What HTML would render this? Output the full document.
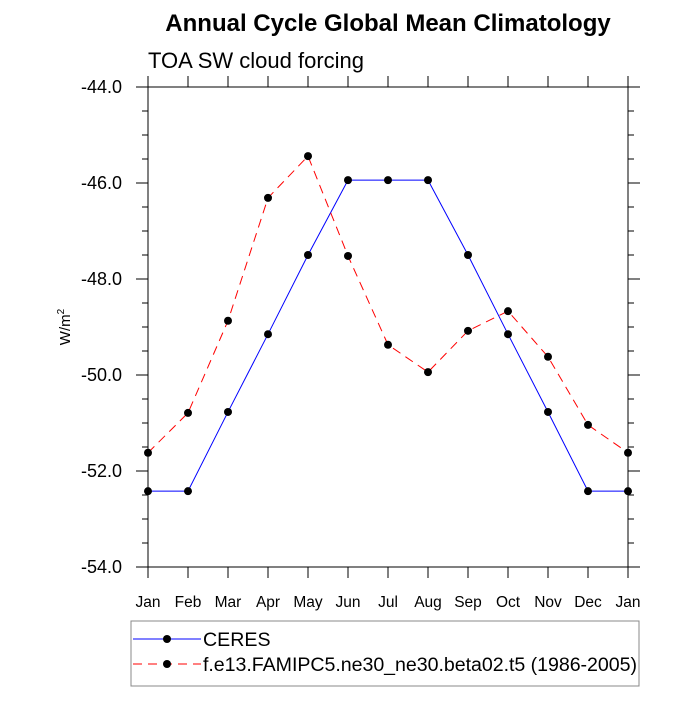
<!DOCTYPE html>
<html><head><meta charset="utf-8"><style>body{margin:0;background:#fff}svg{font-family:"Liberation Sans",sans-serif}</style></head>
<body>
<svg id="c" width="700" height="700">
<text x="388" y="31" text-anchor="middle" font-size="24" font-weight="bold">Annual Cycle Global Mean Climatology</text>
<text x="148" y="68" font-size="22">TOA SW cloud forcing</text>
<text transform="translate(70,327) rotate(-90)" text-anchor="middle" font-size="15">W/m<tspan font-size="10" dy="-6">2</tspan></text>
<g id="axes"></g><g id="series"></g>
<rect x="131" y="621" width="508" height="65" fill="none" stroke="#888"/>
<g>
<line x1="133" y1="639" x2="201" y2="639" stroke="blue"/><circle cx="167" cy="639" r="4" fill="#000"/>
<text x="203" y="646" font-size="19.6">CERES</text></g>
<g>
<line x1="133" y1="664" x2="201" y2="664" stroke="red" stroke-dasharray="9,6"/><circle cx="167" cy="664" r="4" fill="#000"/>
<text x="203" y="671" font-size="19.6" textLength="434">f.e13.FAMIPC5.ne30_ne30.beta02.t5 (1986-2005)</text></g>
</svg>
<script>
const months=["Jan","Feb","Mar","Apr","May","Jun","Jul","Aug","Sep","Oct","Nov","Dec","Jan"];
const ceres=[-52.42,-52.42,-50.77,-49.15,-47.5,-45.94,-45.94,-45.94,-47.5,-49.15,-50.77,-52.42,-52.42];
const model=[-51.62,-50.79,-48.87,-46.31,-45.44,-47.52,-49.37,-49.94,-49.08,-48.67,-49.62,-51.04,-51.62];
const yTicks=[-44,-46,-48,-50,-52,-54];
const NS="http://www.w3.org/2000/svg";
const L=148,R=628,T=87,B=567,yMin=-54,yMax=-44;
const xs=i=>L+(R-L)*i/(months.length-1);
const ys=v=>B-(v-yMin)/(yMax-yMin)*(B-T);
function mk(t,a,p){const e=document.createElementNS(NS,t);for(const k in a)e.setAttribute(k,a[k]);p.appendChild(e);return e;}
const ax=document.getElementById('axes');
const frame=mk('rect',{x:L,y:T,width:R-L,height:B-T,fill:'none',stroke:'#000','stroke-width':1},ax);


for(let v=yMin;v<=yMax+1e-9;v+=0.5){const maj=Math.abs(v/2-Math.round(v/2))<1e-9;const len=maj?12:6;const y=ys(v);
mk('line',{x1:L-len,y1:y,x2:L,y2:y,stroke:'#000'},ax);mk('line',{x1:R,y1:y,x2:R+len,y2:y,stroke:'#000'},ax);}
yTicks.forEach(v=>{const t=mk('text',{x:L-26,y:ys(v)+6,'text-anchor':'end','font-size':18},ax);t.textContent=v.toFixed(1);

});
months.forEach((m,i)=>{const x=xs(i);mk('line',{x1:x,y1:B,x2:x,y2:B+11,stroke:'#000'},ax);mk('line',{x1:x,y1:T,x2:x,y2:T-11,stroke:'#000'},ax);
const t=mk('text',{x:x,y:B+40,'text-anchor':'middle','font-size':15.5},ax);t.textContent=m;

});
const sg=document.getElementById('series');
function series(vals,color,dash,name){const g=mk('g',{},sg);


const pl=mk('polyline',{points:vals.map((v,i)=>xs(i)+','+ys(v)).join(' '),fill:'none',stroke:color,'stroke-dasharray':dash},g);
vals.forEach((v,i)=>{const c=mk('circle',{cx:xs(i),cy:ys(v),r:4,fill:'#000'},g);

});}
series(ceres,'blue','none','ceres-series');
series(model,'red','9,6','model-series');
</script>
</body></html>
